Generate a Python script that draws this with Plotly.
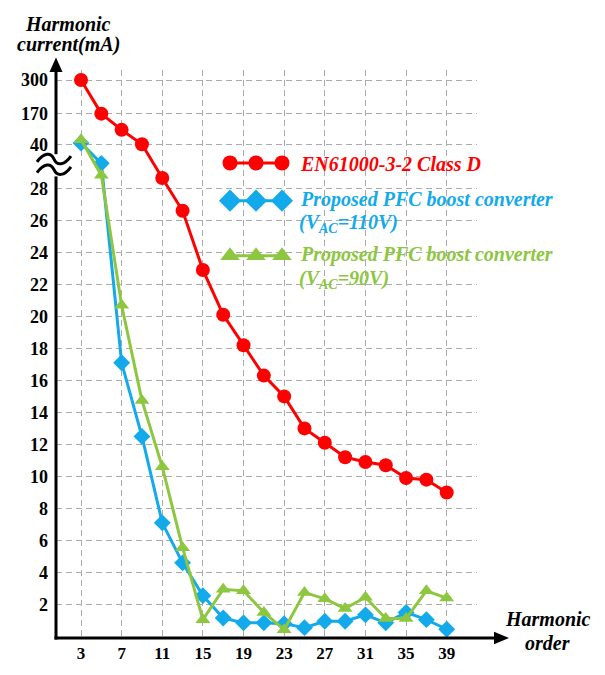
import numpy as np
import plotly.graph_objects as go

# ---------------- data ----------------
harmonic_order = [3, 5, 7, 9, 11, 13, 15, 17, 19, 21, 23, 25, 27, 29, 31, 33, 35, 37, 39]
en61000_class_d = [300, 170, 101, 40, 30.8, 26.6, 22.9, 20.1, 18.2, 16.3, 15.0, 13.0, 12.1,
                   11.2, 10.9, 10.7, 9.9, 9.8, 9.0]
pfc_110v = [45, 34.8, 17.1, 12.5, 7.1, 4.6, 2.55, 1.15, 0.85, 0.85, 0.8, 0.55, 0.95,
            0.95, 1.35, 0.85, 1.5, 1.05, 0.45]
pfc_90v = [59, 31.6, 20.7, 14.75, 10.6, 5.55, 1.05, 2.95, 2.85, 1.5, 0.42, 2.75, 2.35,
           1.75, 2.45, 1.12, 1.12, 2.85, 2.4]

x_ticks = [3, 7, 11, 15, 19, 23, 27, 31, 35, 39]
y_ticks = [2, 4, 6, 8, 10, 12, 14, 16, 18, 20, 22, 24, 26, 28, 40, 170, 300]

series_names = ["EN61000-3-2 Class D",
                "Proposed PFC boost converter",
                "Proposed PFC boost converter"]
series_sub = ["", "(V<sub>AC</sub>=110V)", "(V<sub>AC</sub>=90V)"]

# broken (piecewise) y scale
break_values = [0, 28, 40, 170, 300]
break_display = [0, 28, 30.76, 32.67, 34.77]


def ymap(v):
    return list(np.interp(v, break_values, break_display))


# ---------------- geometry / style ----------------
W, H = 605, 675
L, R, T, B = 56, 477, 70, 657
RED, BLUE, GREEN = "#ff0000", "#12aaea", "#8dc63f"
SERIF = "Liberation Serif"


def px(x):
    return (x - L) / (R - L)


def py(y):
    return (B - y) / (B - T)


def ppath(pts, close=True):
    s = "M" + " L".join(f"{px(a):.5f},{py(b):.5f}" for a, b in pts)
    return s + (" Z" if close else "")


fig = go.Figure()

colors = [RED, BLUE, GREEN]
symbols = ["circle", "diamond", "triangle-up"]
sizes = [14, 13, 13]
for vals, c, s, sz in zip([en61000_class_d, pfc_110v, pfc_90v], colors, symbols, sizes):
    fig.add_trace(go.Scatter(
        x=harmonic_order, y=ymap(vals), mode="lines+markers",
        line=dict(color=c, width=3),
        marker=dict(symbol=s, size=sz, color=c, line=dict(width=0)),
        showlegend=False, cliponaxis=False))

# legend samples on a pixel-unit overlay axis
leg_y = [166, 205, 262]
leg_sizes = [15, 17, 17]
for c, s, sz, ly in zip(colors, symbols, leg_sizes, leg_y):
    fig.add_trace(go.Scatter(
        x=[230, 256, 282], y=[ly, ly, ly], xaxis="x2", yaxis="y2",
        mode="lines+markers", line=dict(color=c, width=3),
        marker=dict(symbol=s, size=sz, color=c, line=dict(width=0)),
        showlegend=False, cliponaxis=False, hoverinfo="skip"))

annotations = []
# legend text
text_y = [[167], [204, 229], [261, 286]]
for name, sub, c, ty in zip(series_names, series_sub, colors, text_y):
    annotations.append(dict(x=px(298), y=py(ty[0]), xref="paper", yref="paper",
                            text=f"<b><i>{name}</i></b>", showarrow=False,
                            xanchor="left", yanchor="middle",
                            font=dict(family=SERIF, size=20, color=c)))
    if sub:
        annotations.append(dict(x=px(297), y=py(ty[1]), xref="paper", yref="paper",
                                text=f"<b><i>{sub}</i></b>", showarrow=False,
                                xanchor="left", yanchor="middle",
                                font=dict(family=SERIF, size=20, color=c)))

# axis titles
for txt, x, y in [("Harmonic", 68, 22), ("current(mA)", 68, 44),
                  ("Harmonic", 548, 637), ("order", 547, 662)]:
    annotations.append(dict(x=px(x), y=py(y), xref="paper", yref="paper",
                            text=f"<b><i>{txt}</i></b>", showarrow=False,
                            xanchor="center", yanchor="middle",
                            font=dict(family=SERIF, size=20, color="black")))

shapes = []
# axis lines with arrow heads
shapes.append(dict(type="line", xref="paper", yref="paper",
                   x0=px(L), x1=px(L), y0=py(B + 1.5), y1=py(70),
                   line=dict(color="black", width=3), layer="above"))
shapes.append(dict(type="path", xref="paper", yref="paper",
                   path=ppath([(L, 57), (L - 6.5, 72), (L + 6.5, 72)]),
                   fillcolor="black", line=dict(width=0), layer="above"))
shapes.append(dict(type="line", xref="paper", yref="paper",
                   x0=px(L - 1.5), x1=px(496), y0=py(B), y1=py(B),
                   line=dict(color="black", width=3), layer="above"))
shapes.append(dict(type="path", xref="paper", yref="paper",
                   path=ppath([(509, B), (494, B - 6.5), (494, B + 6.5)]),
                   fillcolor="black", line=dict(width=0), layer="above"))

# axis break symbol
shapes.append(dict(type="rect", xref="paper", yref="paper",
                   x0=px(50), x1=px(62), y0=py(157), y1=py(180),
                   fillcolor="white", line=dict(width=0), layer="above"))
for yc in [162, 173]:
    pts = [(37, yc + 3), (44, yc - 7), (51, yc - 7), (54, yc),
           (57, yc + 7), (64, yc + 7), (71, yc - 3)]
    p = [f"{px(a):.5f},{py(b):.5f}" for a, b in pts]
    path = f"M{p[0]} C{p[1]} {p[2]} {p[3]} C{p[4]} {p[5]} {p[6]}"
    shapes.append(dict(type="path", xref="paper", yref="paper", path=path,
                       line=dict(color="black", width=3), layer="above"))

grid = dict(gridcolor="#ababab", gridwidth=1.3, griddash="6px,4px")
fig.update_layout(
    width=W, height=H,
    margin=dict(l=L, r=W - R, t=T, b=H - B, pad=0),
    paper_bgcolor="white", plot_bgcolor="white",
    xaxis=dict(range=[3 - (81 - L) / 10.158, 39 + (R - 446.7) / 10.158],
               tickmode="array", tickvals=x_ticks, ticktext=[str(v) for v in x_ticks],
               showline=False, zeroline=False, ticks="", ticklabelstandoff=3,
               tickfont=dict(family=SERIF, size=17, color="black", weight="bold"), **grid),
    yaxis=dict(range=[(655.4 - B) / 16.538, (655.4 - T) / 16.538],
               tickmode="array", tickvals=ymap(y_ticks), ticktext=[str(v) for v in y_ticks],
               showline=False, zeroline=False, ticks="", ticklabelstandoff=7,
               tickfont=dict(family=SERIF, size=18, color="black", weight="bold"), **grid),
    xaxis2=dict(overlaying="x", range=[L, R], visible=False, anchor="y2"),
    yaxis2=dict(overlaying="y", range=[B, T], visible=False, anchor="x2"),
    annotations=annotations, shapes=shapes,
)

fig.write_html("out.html")
